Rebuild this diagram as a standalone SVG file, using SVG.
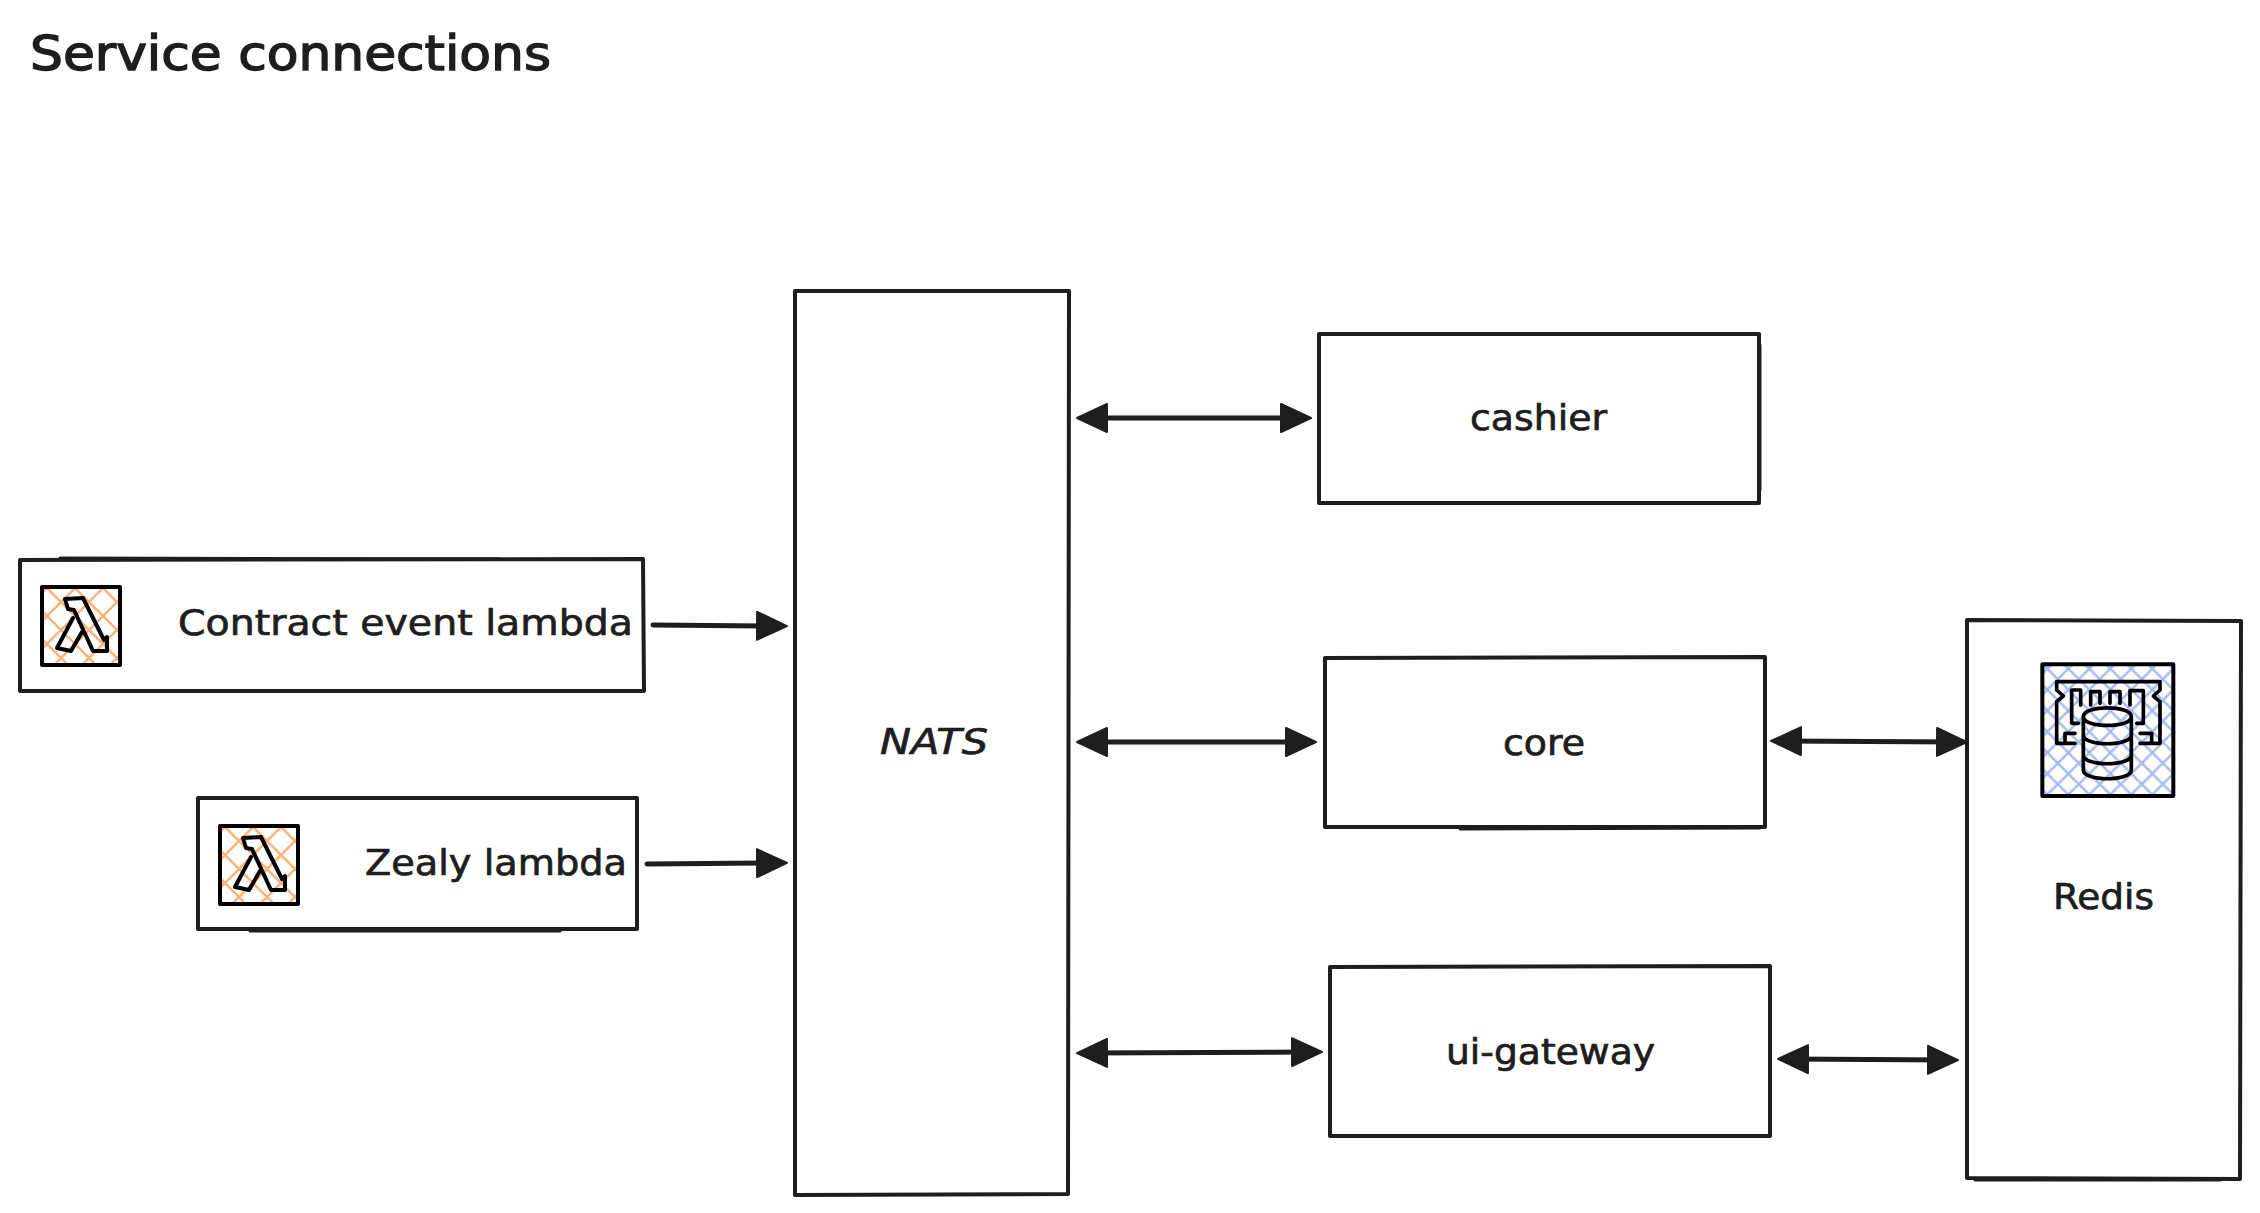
<svg xmlns="http://www.w3.org/2000/svg" width="2260" height="1213" viewBox="0 0 2260 1213">
<style>
.box{fill:#fff;stroke:#1e1e1e;stroke-width:4;stroke-linejoin:round}
.over{fill:none;stroke:#1e1e1e;stroke-width:3;stroke-linecap:round}
.lbl{font-family:"DejaVu Sans",sans-serif;font-size:35px;fill:#1e1e1e;stroke:#1e1e1e;stroke-width:.7;text-anchor:start}
.conn{fill:none;stroke:#1e1e1e;stroke-width:5;stroke-linecap:round}
.ic{fill:none;stroke:#000;stroke-width:4;stroke-linejoin:round;stroke-linecap:round}
</style>
<defs>
<marker id="head" viewBox="0 0 32 32" refX="22" refY="16" markerWidth="32" markerHeight="32" markerUnits="userSpaceOnUse" orient="auto-start-reverse"><path d="M1,2 L31,16 L1,30 Z" fill="#1e1e1e" stroke="#1e1e1e" stroke-width="2" stroke-linejoin="round"/></marker>
<pattern id="orange" width="28" height="28" patternUnits="userSpaceOnUse" patternTransform="translate(6 2)"><path d="M-2,-2 L30,30 M30,-2 L-2,30" stroke="#ffb37a" stroke-width="2.5" fill="none"/></pattern>
<pattern id="blue" width="63" height="63" patternUnits="userSpaceOnUse" patternTransform="translate(10 20)"><path d="M-4,-4 L67,67 M67,-4 L-4,67" stroke="#a5b8f2" stroke-width="7" fill="none"/></pattern>
<g id="lambda"><rect x="1" y="1" width="78" height="78" fill="#fff"/><rect x="1" y="1" width="78" height="78" fill="url(#orange)" stroke="#000" stroke-width="4" stroke-linejoin="round"/><path class="ic" d="M24,13 L42,12 L63,54 L66,51 L66,65 L52,65 L33,24 L27,23 Z M32,32 L16,62 L30,65 L41,46"/></g>
</defs>
<rect width="2260" height="1213" fill="#fff"/>
<text id="title" x="30" y="70" font-family="'DejaVu Sans',sans-serif" font-size="48" fill="#1e1e1e" stroke="#1e1e1e" stroke-width="1.4" textLength="521" lengthAdjust="spacingAndGlyphs">Service connections</text>
<g id="connectors">
<line class="conn" x1="653" y1="625" x2="778" y2="626" marker-end="url(#head)"/>
<line class="conn" x1="647" y1="864" x2="778" y2="863" marker-end="url(#head)"/>
<line class="conn" x1="1086" y1="418" x2="1302" y2="418" marker-start="url(#head)" marker-end="url(#head)"/>
<line class="conn" x1="1086" y1="742" x2="1307" y2="742" marker-start="url(#head)" marker-end="url(#head)"/>
<line class="conn" x1="1086" y1="1053" x2="1313" y2="1052" marker-start="url(#head)" marker-end="url(#head)"/>
<line class="conn" x1="1780" y1="741" x2="1958" y2="742" marker-start="url(#head)" marker-end="url(#head)"/>
<line class="conn" x1="1787" y1="1059" x2="1949" y2="1060" marker-start="url(#head)" marker-end="url(#head)"/>
</g>
<g id="contract"><path class="box" d="M20,560 L643,559 L644,691 L20,691 Z"/><path class="over" d="M60,558 L500,559"/><use href="#lambda" x="41" y="586"/><text class="lbl" x="178" y="635" textLength="455" lengthAdjust="spacingAndGlyphs">Contract event lambda</text></g>
<g id="zealy"><path class="box" d="M198,798 L637,798 L637,929 L198,929 Z"/><path class="over" d="M250,931 L560,931"/><use href="#lambda" x="219" y="825"/><text class="lbl" x="365" y="875" textLength="262" lengthAdjust="spacingAndGlyphs">Zealy lambda</text></g>
<g id="nats"><path class="box" d="M795,291 L1069,291 L1068,1194 L795,1195 Z"/><text class="lbl" x="880" y="754" textLength="108" lengthAdjust="spacingAndGlyphs" font-style="italic">NATS</text></g>
<g id="cashier"><path class="box" d="M1319,334 L1759,334 L1759,503 L1319,503 Z"/><path class="over" d="M1760,345 L1760,490"/><text class="lbl" x="1470" y="430" textLength="137" lengthAdjust="spacingAndGlyphs">cashier</text></g>
<g id="core"><path class="box" d="M1325,658 L1765,657 L1765,827 L1325,827 Z"/><path class="over" d="M1460,829 L1760,828"/><text class="lbl" x="1503" y="755" textLength="82" lengthAdjust="spacingAndGlyphs">core</text></g>
<g id="ui-gateway"><path class="box" d="M1330,967 L1770,966 L1770,1136 L1330,1136 Z"/><text class="lbl" x="1446" y="1064" textLength="209" lengthAdjust="spacingAndGlyphs">ui-gateway</text></g>
<g id="redis"><path class="box" d="M1967,620 L2241,621 L2240,1179 L1967,1178 Z"/><path class="over" d="M1975,1180 L2220,1180"/>
<g transform="translate(1960 620) scale(.33333)">
<rect x="247" y="133" width="393" height="395" fill="#fff"/><rect x="247" y="133" width="393" height="395" fill="url(#blue)" stroke="#000" stroke-width="12" stroke-linejoin="round"/>
<g fill="none" stroke="#000" stroke-width="11" stroke-linejoin="round" stroke-linecap="round">
<path d="M345,340 H315 V370 H290 V245 L310,228 L290,210 V185 H600 V210 L580,228 L600,245 V370 H575 V340 H540 M315,370 H345 M575,370 H540"/>
<path d="M355,310 H335 V210 H362 V255 M392,255 V215 H420 V250 M450,250 V215 H480 V250 M510,255 V212 H550 V310 H530"/>
<path d="M370,290 C370,255 514,255 514,290 V450 C514,485 370,485 370,450 Z M370,290 C370,325 514,325 514,290 M370,345 C370,380 514,380 514,345 M370,405 C370,440 514,440 514,405"/>
</g></g>
<text class="lbl" x="2053" y="909" textLength="101" lengthAdjust="spacingAndGlyphs">Redis</text></g>
</svg>
